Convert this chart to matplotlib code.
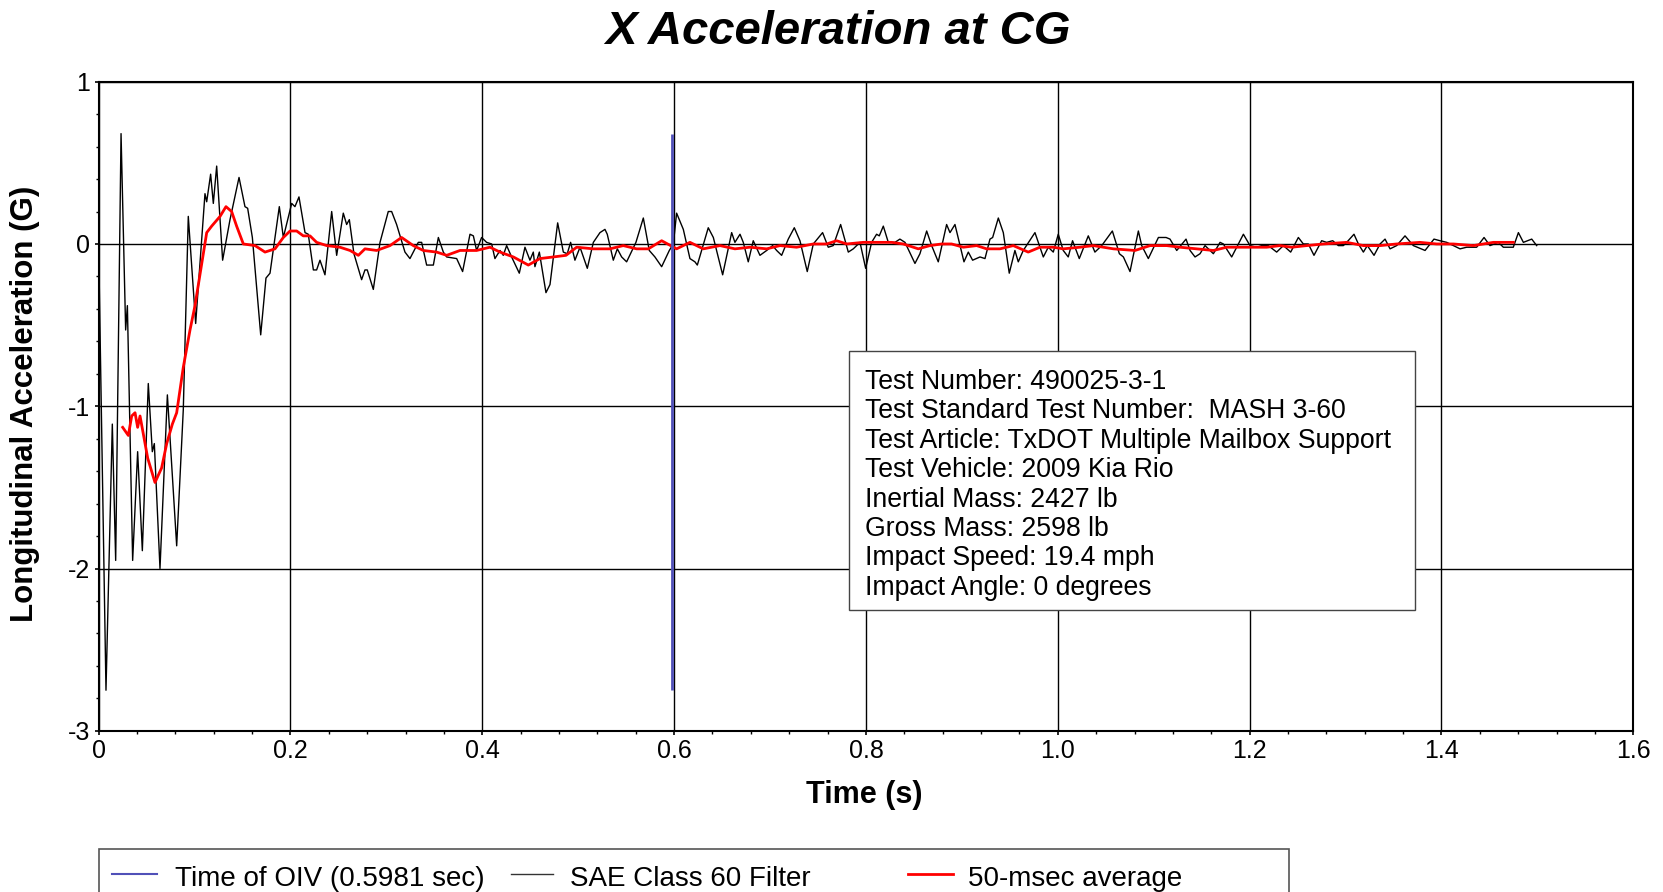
import matplotlib
matplotlib.use('Agg')
import matplotlib.pyplot as plt
from matplotlib.patches import Rectangle
from matplotlib.lines import Line2D
from matplotlib.ticker import MultipleLocator

plt.rcParams['font.family'] = ['Liberation Sans', 'DejaVu Sans']
plt.rcParams['axes.unicode_minus'] = False

# SAE Class 60 filtered signal, (time s, accel G)
sae60 = [
    (0.0000, 0.00), (0.0077, -2.75), (0.0143, -1.11), (0.0178, -1.95), (0.0234, 0.68),
    (0.0282, -0.53), (0.0300, -0.38), (0.0355, -1.95), (0.0407, -1.28), (0.0456, -1.89),
    (0.0518, -0.86), (0.0560, -1.28), (0.0581, -1.23), (0.0640, -2.00), (0.0717, -0.93),
    (0.0814, -1.86), (0.0883, -1.02), (0.0935, 0.17), (0.1012, -0.49), (0.1109, 0.31),
    (0.1127, 0.26), (0.1168, 0.43), (0.1196, 0.25), (0.1231, 0.48), (0.1293, -0.10),
    (0.1370, 0.15), (0.1464, 0.41), (0.1526, 0.23), (0.1554, 0.22), (0.1603, 0.04),
    (0.1690, -0.56), (0.1745, -0.21), (0.1787, -0.18), (0.1884, 0.23), (0.1926, 0.04),
    (0.2013, 0.25), (0.2047, 0.23), (0.2089, 0.29), (0.2152, 0.07), (0.2186, 0.06),
    (0.2239, -0.16), (0.2273, -0.16), (0.2308, -0.10), (0.2360, -0.19), (0.2430, 0.20),
    (0.2482, -0.07), (0.2551, 0.19), (0.2586, 0.12), (0.2614, 0.15), (0.2662, -0.06),
    (0.2742, -0.22), (0.2777, -0.16), (0.2801, -0.16), (0.2864, -0.28), (0.2934, 0.01),
    (0.3020, 0.20), (0.3055, 0.20), (0.3107, 0.12), (0.3194, -0.05), (0.3246, -0.09),
    (0.3333, 0.01), (0.3368, 0.01), (0.3420, -0.13), (0.3490, -0.13), (0.3542, 0.04),
    (0.3594, -0.05), (0.3629, -0.08), (0.3733, -0.09), (0.3795, -0.17), (0.3872, 0.06),
    (0.3907, 0.05), (0.3941, -0.04), (0.3993, 0.04), (0.4045, 0.01), (0.4098, 0.00),
    (0.4132, -0.09), (0.4185, -0.04), (0.4219, -0.07), (0.4254, -0.01), (0.4306, -0.08),
    (0.4386, -0.18), (0.4445, -0.02), (0.4497, -0.10), (0.4532, -0.05), (0.4549, -0.14),
    (0.4595, -0.05), (0.4664, -0.30), (0.4706, -0.25), (0.4786, 0.13), (0.4845, -0.05),
    (0.4886, -0.06), (0.4921, 0.01), (0.4966, -0.10), (0.5019, -0.02), (0.5095, -0.15),
    (0.5158, 0.01), (0.5227, 0.07), (0.5279, 0.09), (0.5303, 0.06), (0.5366, -0.10),
    (0.5408, -0.03), (0.5453, -0.08), (0.5505, -0.11), (0.5602, 0.01), (0.5679, 0.16),
    (0.5741, -0.04), (0.5800, -0.08), (0.5870, -0.14), (0.5950, -0.04), (0.5992, 0.00),
    (0.6026, 0.19), (0.6061, 0.14), (0.6096, 0.09), (0.6165, -0.09), (0.6217, -0.11),
    (0.6242, -0.13), (0.6356, 0.10), (0.6409, 0.04), (0.6506, -0.19), (0.6600, 0.07),
    (0.6634, 0.01), (0.6687, 0.06), (0.6721, 0.01), (0.6773, -0.11), (0.6825, 0.02),
    (0.6895, -0.07), (0.6965, -0.04), (0.7027, -0.01), (0.7069, -0.04), (0.7121, -0.07),
    (0.7190, 0.03), (0.7253, 0.10), (0.7312, 0.02), (0.7388, -0.17), (0.7451, 0.00),
    (0.7548, 0.07), (0.7607, -0.02), (0.7659, -0.01), (0.7736, 0.12), (0.7816, -0.05),
    (0.7868, -0.03), (0.7938, 0.01), (0.7997, -0.15), (0.8059, 0.01), (0.8111, 0.06),
    (0.8139, 0.05), (0.8181, 0.11), (0.8233, 0.01), (0.8302, 0.01), (0.8354, 0.03),
    (0.8407, 0.01), (0.8511, -0.12), (0.8563, -0.06), (0.8633, 0.08), (0.8685, -0.01),
    (0.8754, -0.11), (0.8841, 0.12), (0.8876, 0.07), (0.8928, 0.12), (0.9022, -0.11),
    (0.9067, -0.05), (0.9112, -0.10), (0.9189, -0.08), (0.9241, -0.09), (0.9293, 0.03),
    (0.9321, 0.04), (0.9380, 0.16), (0.9432, 0.07), (0.9494, -0.18), (0.9553, -0.04),
    (0.9588, -0.11), (0.9640, -0.04), (0.9762, 0.07), (0.9849, -0.08), (0.9901, -0.02),
    (0.9953, -0.05), (1.0005, 0.06), (1.0057, -0.04), (1.0109, -0.08), (1.0154, 0.02),
    (1.0224, -0.09), (1.0318, 0.05), (1.0387, -0.05), (1.0458, -0.01), (1.0569, 0.08),
    (1.0642, -0.06), (1.0684, -0.08), (1.0753, -0.17), (1.0840, 0.08), (1.0875, -0.01),
    (1.0944, -0.09), (1.1049, 0.04), (1.1129, 0.04), (1.1170, 0.03), (1.1240, -0.04),
    (1.1337, 0.03), (1.1379, -0.04), (1.1431, -0.08), (1.1483, -0.06), (1.1535, -0.01),
    (1.1622, -0.06), (1.1692, 0.01), (1.1726, 0.00), (1.1813, -0.08), (1.1935, 0.06),
    (1.2004, -0.01), (1.2074, -0.02), (1.2126, -0.01), (1.2195, -0.01), (1.2282, -0.05),
    (1.2352, -0.01), (1.2428, -0.05), (1.2508, 0.04), (1.2560, 0.00), (1.2612, 0.00),
    (1.2671, -0.07), (1.2751, 0.02), (1.2803, 0.01), (1.2866, 0.02), (1.2925, -0.01),
    (1.2977, -0.01), (1.3012, 0.01), (1.3088, 0.06), (1.3134, 0.00), (1.3186, -0.05),
    (1.3227, -0.01), (1.3297, -0.07), (1.3360, 0.00), (1.3412, 0.03), (1.3464, -0.03),
    (1.3533, -0.01), (1.3620, 0.05), (1.3707, -0.01), (1.3829, -0.04), (1.3922, 0.03),
    (1.3985, 0.02), (1.4055, 0.01), (1.4124, -0.01), (1.4194, -0.03), (1.4263, -0.02),
    (1.4367, -0.02), (1.4444, 0.04), (1.4506, -0.01), (1.4548, 0.00), (1.4593, 0.01),
    (1.4645, -0.02), (1.4749, -0.02), (1.4802, 0.07), (1.4854, 0.01), (1.4941, 0.03),
    (1.4993, -0.01),
]

# 50-msec moving average, (time s, accel G)
avg50 = [
    (0.0251, -1.13), (0.0310, -1.18), (0.0345, -1.06), (0.0380, -1.04), (0.0407, -1.13),
    (0.0432, -1.06), (0.0466, -1.17), (0.0512, -1.32), (0.0588, -1.47), (0.0657, -1.38),
    (0.0710, -1.23), (0.0769, -1.11), (0.0814, -1.04), (0.0883, -0.76), (0.0953, -0.53),
    (0.1005, -0.38), (0.1127, 0.07), (0.1179, 0.11), (0.1266, 0.17), (0.1328, 0.23),
    (0.1387, 0.20), (0.1439, 0.11), (0.1509, 0.00), (0.1631, -0.01), (0.1735, -0.05),
    (0.1839, -0.03), (0.1926, 0.04), (0.1996, 0.08), (0.2065, 0.08), (0.2134, 0.05),
    (0.2204, 0.05), (0.2273, 0.01), (0.2378, -0.01), (0.2516, -0.02), (0.2621, -0.04),
    (0.2708, -0.07), (0.2777, -0.03), (0.2899, -0.04), (0.3038, -0.01), (0.3159, 0.04),
    (0.3281, -0.01), (0.3385, -0.04), (0.3524, -0.05), (0.3629, -0.07), (0.3768, -0.04),
    (0.3941, -0.04), (0.4080, -0.02), (0.4185, -0.05), (0.4324, -0.08), (0.4480, -0.13),
    (0.4601, -0.09), (0.4741, -0.08), (0.4873, -0.07), (0.4984, -0.02), (0.5158, -0.03),
    (0.5331, -0.03), (0.5470, -0.01), (0.5609, -0.03), (0.5731, -0.03), (0.5870, 0.02),
    (0.6026, -0.03), (0.6165, 0.01), (0.6304, -0.03), (0.6478, -0.01), (0.6634, -0.03),
    (0.6791, -0.02), (0.6965, -0.03), (0.7104, -0.01), (0.7277, -0.02), (0.7451, 0.00),
    (0.7590, 0.00), (0.7694, 0.02), (0.7799, 0.00), (0.7972, 0.01), (0.8146, 0.01),
    (0.8268, 0.01), (0.8389, 0.00), (0.8546, -0.03), (0.8667, -0.01), (0.8789, 0.00),
    (0.8893, 0.00), (0.9015, -0.02), (0.9154, -0.01), (0.9258, -0.03), (0.9397, -0.03),
    (0.9536, -0.01), (0.9692, -0.05), (0.9814, -0.02), (0.9953, -0.02), (1.0057, -0.03),
    (1.0231, -0.02), (1.0370, -0.01), (1.0475, -0.02), (1.0580, -0.03), (1.0805, -0.04),
    (1.0962, -0.01), (1.1136, -0.01), (1.1275, -0.02), (1.1448, -0.03), (1.1622, -0.04),
    (1.1761, -0.02), (1.1970, -0.02), (1.2178, -0.02), (1.2317, -0.01), (1.2439, -0.02),
    (1.2595, -0.01), (1.2769, 0.00), (1.3012, 0.01), (1.3186, -0.01), (1.3360, -0.01),
    (1.3533, 0.00), (1.3776, 0.01), (1.3950, 0.00), (1.4124, 0.00), (1.4333, -0.01),
    (1.4541, 0.01), (1.4749, 0.01),
]

oiv_time = 0.5981

x_ticks = [0, 0.2, 0.4, 0.6, 0.8, 1.0, 1.2, 1.4, 1.6]
x_labels = ['0', '0.2', '0.4', '0.6', '0.8', '1.0', '1.2', '1.4', '1.6']
y_ticks = [-3, -2, -1, 0, 1]
y_labels = ['-3', '-2', '-1', '0', '1']

info_lines = [
    'Test Number: 490025-3-1',
    'Test Standard Test Number:  MASH 3-60',
    'Test Article: TxDOT Multiple Mailbox Support',
    'Test Vehicle: 2009 Kia Rio',
    'Inertial Mass: 2427 lb',
    'Gross Mass: 2598 lb',
    'Impact Speed: 19.4 mph',
    'Impact Angle: 0 degrees',
]

legend_labels = ['Time of OIV (0.5981 sec)', 'SAE Class 60 Filter', '50-msec average']
blue = '#5050b8'

W, H = 1663, 892


def fx(px):
    return px / W


def fy(py):
    return 1 - py / H


fig = plt.figure(figsize=(W / 100, H / 100), dpi=100)
ax = fig.add_axes([fx(98.6), fy(730.8), 1534.7 / W, 649.1 / H])

t_filt, g_filt = zip(*sae60)
t_avg, g_avg = zip(*avg50)

ax.plot(t_filt, g_filt, color='black', lw=1.0, zorder=3)
ax.plot(t_avg, g_avg, color='red', lw=2.0, zorder=4)
ax.vlines(oiv_time, min(g_filt), max(g_filt), color=blue, lw=2.0, zorder=5)

ax.set_xlim(0, 1.6)
ax.set_ylim(-3, 1)
ax.set_xticks(x_ticks, x_labels)
ax.set_yticks(y_ticks, y_labels)
ax.xaxis.set_minor_locator(MultipleLocator(0.04))
ax.yaxis.set_minor_locator(MultipleLocator(0.2))
ax.tick_params(which='major', labelsize=18, length=3, width=1.2, pad=3, direction='out')
ax.tick_params(which='minor', length=2.5, width=1.0, direction='out')
ax.grid(True, which='major', color='black', lw=1.0)
ax.set_axisbelow(True)
for s in ax.spines.values():
    s.set_linewidth(1.5)

fig.text(fx(838), fy(44.5), 'X Acceleration at CG', fontsize=34, fontweight='bold',
         style='italic', ha='center', va='baseline')
fig.text(fx(864.5), fy(803), 'Time (s)', fontsize=22, fontweight='bold',
         ha='center', va='baseline')
fig.text(fx(25.5), fy(404), 'Longitudinal Acceleration (G)', fontsize=22.5,
         fontweight='bold', rotation=90, ha='center', va='center')

# info box
fig.add_artist(Rectangle((fx(849), fy(610)), (1415 - 849) / W, (610 - 351) / H,
                         transform=fig.transFigure, facecolor='white',
                         edgecolor='#444444', lw=1.0, zorder=5))
for i, line in enumerate(info_lines):
    fig.text(fx(865), fy(389 + i * 29.4), line, fontsize=19.2, ha='left',
             va='baseline', zorder=6)

# legend strip at the bottom
fig.add_artist(Rectangle((fx(98.6), -0.05), (1289 - 98.6) / W, fy(848.5) + 0.05,
                         transform=fig.transFigure, facecolor='white',
                         edgecolor='#555555', lw=1.2, zorder=5))
handles = [(112, 157, blue, 1.5), (511, 553, '#333333', 1.0), (908, 953, 'red', 2.0)]
text_x = [175, 570, 968]
for (x0, x1, c, lw), tx, lab in zip(handles, text_x, legend_labels):
    fig.add_artist(Line2D([fx(x0), fx(x1)], [fy(874), fy(874)], color=c, lw=lw,
                          transform=fig.transFigure, zorder=6))
    fig.text(fx(tx), fy(886), lab, fontsize=20, ha='left', va='baseline', zorder=6)

fig.savefig('out.png', dpi=100)
